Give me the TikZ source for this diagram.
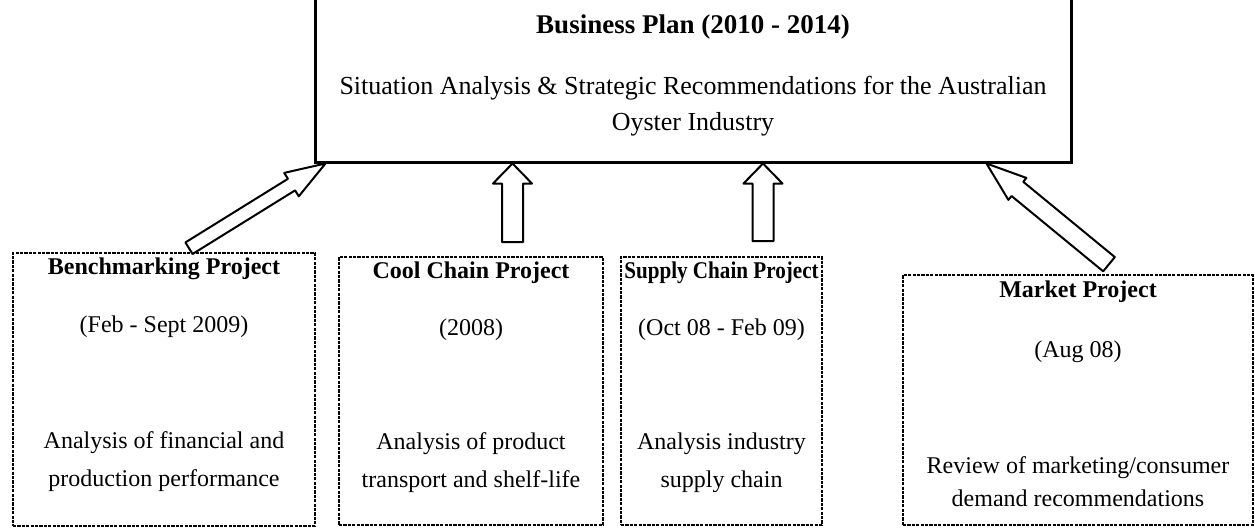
\documentclass[tikz,border=0pt]{standalone}
\usepackage{fontspec}
\setmainfont{Liberation Serif}
\usetikzlibrary{calc}

% fat outlined arrow: tail, tip, half shaft width, half head width, head length
\newcommand{\blockarrow}[5]{%
  \coordinate (hb) at ($(#2)!#5!(#1)$);
  \draw[arr] ($(#1)!#3!90:(#2)$) -- ($(hb)!#3!-90:(#1)$) -- ($(hb)!#4!-90:(#1)$) -- (#2)
    -- ($(hb)!#4!90:(#1)$) -- ($(hb)!#3!90:(#1)$) -- ($(#1)!#3!-90:(#2)$) -- cycle;
}

\begin{document}
\begin{tikzpicture}[x=0.5pt,y=-0.5pt,
  box/.style={rectangle,draw,inner sep=0pt,dash pattern=on 1.6pt off 0.6pt,line width=0.8pt},
  ttl/.style={font=\fontsize{12}{14}\selectfont\bfseries},
  txt/.style={font=\fontsize{12}{19}\selectfont,align=center},
  arr/.style={line width=1pt,fill=white,line join=round}]
\useasboundingbox (0,0) rectangle (1255,527);

\node [rectangle,draw,line width=1.5pt,minimum width=378pt,minimum height=86pt] (plan) at (693,76) {};
\node [box,minimum width=151pt,minimum height=136.5pt] (bench) at (164,389.5) {};
\node [box,minimum width=132pt,minimum height=134pt] (cool) at (471,391) {};
\node [box,minimum width=100.5pt,minimum height=134pt] (supply) at (721.5,391) {};
\node [box,minimum width=175pt,minimum height=125pt] (market) at (1078,400) {};

\coordinate (a1) at ([xshift=12.5pt,yshift=2pt]bench.north);
\coordinate (b1) at ([xshift=6pt]plan.south west);
\coordinate (a2) at (512.5,242);
\coordinate (b2) at (a2 |- plan.south);
\coordinate (a3) at (763,241);
\coordinate (b3) at (a3 |- plan.south);
\coordinate (a4) at ([xshift=15.5pt,yshift=5pt]market.north);
\coordinate (b4) at ([xshift=-43pt]plan.south east);

\blockarrow{a1}{b1}{3.4pt}{6.9pt}{20pt}
\blockarrow{a2}{b2}{5.25pt}{9.75pt}{10pt}
\blockarrow{a3}{b3}{5.25pt}{9.75pt}{10pt}
\blockarrow{a4}{b4}{4.6pt}{7.1pt}{20pt}

\node [font=\fontsize{13.5}{16}\selectfont\bfseries] (plantitle) at (693,27) {Business Plan (2010 - 2014)};
\node [font=\fontsize{13}{18}\selectfont,align=center] (plantext) at (693,106)
  {Situation Analysis \& Strategic Recommendations for the Australian\\Oyster Industry};

\node [ttl] (benchtitle) at (164,269) {Benchmarking Project};
\node [txt] (benchdate) at (164,327) {(Feb - Sept 2009)};
\node [txt] (benchtext) at (164,462) {Analysis of financial and\\production performance};

\node [ttl] (cooltitle) at (471,273) {Cool Chain Project};
\node [txt] (cooldate) at (471,330) {(2008)};
\node [txt] (cooltext) at (471,462.5) {Analysis of product\\transport and shelf-life};

\node [ttl] (supplytitle) at (721.5,273) {\scalebox{0.88}[1]{Supply Chain Project}};
\node [txt] (supplydate) at (721.5,330) {(Oct 08 - Feb 09)};
\node [txt] (supplytext) at (721.5,462.5) {Analysis industry\\supply chain};

\node [ttl] (markettitle) at (1078,292) {Market Project};
\node [txt] (marketdate) at (1078,352) {(Aug 08)};
\node [txt,font=\fontsize{12}{16.5}\selectfont] (markettext) at (1078,481.5) {Review of marketing/consumer\\demand recommendations};
\end{tikzpicture}
\end{document}
